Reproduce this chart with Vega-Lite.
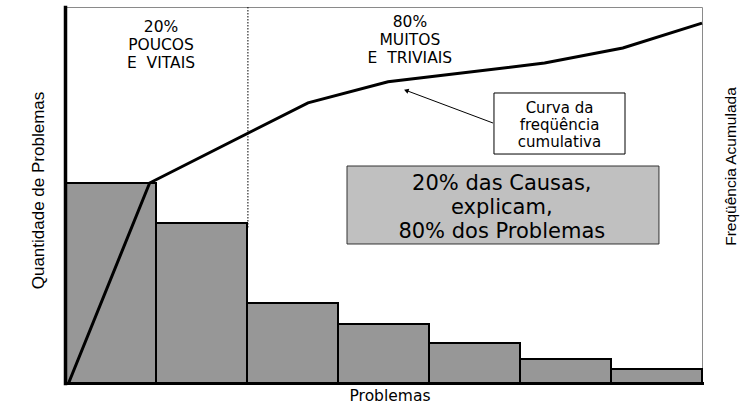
{
  "$schema": "https://vega.github.io/schema/vega-lite/v6.json",
  "width": 637,
  "height": 376,
  "autosize": {"type": "none"},
  "padding": {"left": 65, "top": 7, "right": 50, "bottom": 22},
  "background": "white",
  "config": {
    "view": {"stroke": "#8a8a8a", "strokeWidth": 1},
    "text": {"font": "DejaVu Sans", "color": "black"}
  },
  "resolve": {"axis": {"x": "independent", "y": "independent"}},
  "layer": [
    {
      "data": {"values": [
        {"problema": "1", "inicio": 0, "fim": 1, "quantidade": 53.2},
        {"problema": "2", "inicio": 1, "fim": 2, "quantidade": 42.55},
        {"problema": "3", "inicio": 2, "fim": 3, "quantidade": 21.28},
        {"problema": "4", "inicio": 3, "fim": 4, "quantidade": 15.69},
        {"problema": "5", "inicio": 4, "fim": 5, "quantidade": 10.64},
        {"problema": "6", "inicio": 5, "fim": 6, "quantidade": 6.38},
        {"problema": "7", "inicio": 6, "fim": 7, "quantidade": 3.72}
      ]},
      "mark": {"type": "rect", "fill": "#979797", "stroke": "black", "strokeWidth": 2},
      "encoding": {
        "x": {"field": "inicio", "type": "quantitative", "scale": {"domain": [0, 7], "nice": false, "zero": false},
          "axis": {"orient": "bottom", "title": "Problemas", "domain": true, "domainColor": "black", "domainWidth": 3, "domainCap": "square", "ticks": false, "labels": false, "grid": false,
            "titleFont": "DejaVu Sans", "titleFontSize": 15.5, "titleFontWeight": "normal", "titleColor": "black", "titleBaseline": "alphabetic", "titleX": 324.5, "titleY": 17.5, "zindex": 1}},
        "x2": {"field": "fim"},
        "y": {"field": "quantidade", "type": "quantitative", "scale": {"domain": [0, 100], "nice": false},
          "axis": {"orient": "left", "title": "Quantidade de Problemas", "domainColor": "black", "domainWidth": 3.5, "domainCap": "square", "ticks": false, "labels": false, "grid": false,
            "titleFont": "Liberation Sans", "titleFontSize": 17, "titleFontWeight": "normal", "titleColor": "black", "titlePadding": 18, "titleY": 183, "zindex": 1}},
        "y2": {"datum": 0}
      }
    },
    {
      "data": {"values": [
        {"posicao": 0.04, "acumulado": 0},
        {"posicao": 0.93, "acumulado": 53.2},
        {"posicao": 2.67, "acumulado": 74.5},
        {"posicao": 3.55, "acumulado": 80.1},
        {"posicao": 5.27, "acumulado": 85.1},
        {"posicao": 6.13, "acumulado": 89.1},
        {"posicao": 7.0, "acumulado": 95.7}
      ]},
      "mark": {"type": "line", "color": "black", "strokeWidth": 3},
      "encoding": {
        "x": {"field": "posicao", "type": "quantitative", "axis": null},
        "y": {"field": "acumulado", "type": "quantitative",
          "axis": {"orient": "right", "title": "Freqüência Acumulada", "domain": false, "ticks": false, "labels": false, "grid": false,
            "titleFont": "Liberation Sans", "titleFontSize": 15.5, "titleFontWeight": "normal", "titleColor": "black", "titleAngle": 270, "titleBaseline": "top", "titlePadding": 21, "titleY": 159}}
      }
    },
    {
      "data": {"values": [{"divisao": "20/80"}]},
      "mark": {"type": "rule", "color": "black", "strokeWidth": 1, "strokeDash": [1.5, 1.5]},
      "encoding": {
        "x": {"datum": 2.01, "axis": null},
        "y": {"datum": 100, "axis": null},
        "y2": {"datum": 41.2}
      }
    },
    {
      "data": {"values": [{"texto": "20%\nPOUCOS\nE\u00a0\u00a0VITAIS"}]},
      "mark": {"type": "text", "fontSize": 15.5, "lineBreak": "\n", "lineHeight": 18, "align": "center", "baseline": "alphabetic"},
      "encoding": {
        "x": {"datum": 1.055, "axis": null},
        "y": {"datum": 93.35, "axis": null},
        "text": {"field": "texto"}
      }
    },
    {
      "data": {"values": [{"texto": "80%\nMUITOS\nE\u00a0\u00a0TRIVIAIS"}]},
      "mark": {"type": "text", "fontSize": 15.5, "lineBreak": "\n", "lineHeight": 18, "align": "center", "baseline": "alphabetic"},
      "encoding": {
        "x": {"datum": 3.79, "axis": null},
        "y": {"datum": 94.68, "axis": null},
        "text": {"field": "texto"}
      }
    },
    {
      "data": {"values": [{"caixa": "curva"}]},
      "mark": {"type": "rect", "fill": "white", "stroke": "black", "strokeWidth": 1},
      "encoding": {
        "x": {"datum": 4.714, "axis": null},
        "x2": {"datum": 6.154},
        "y": {"datum": 77.13, "axis": null},
        "y2": {"datum": 60.9}
      }
    },
    {
      "data": {"values": [{"texto": "Curva da\nfreqüência\ncumulativa"}]},
      "mark": {"type": "text", "fontSize": 15, "lineBreak": "\n", "lineHeight": 17, "align": "center", "baseline": "alphabetic"},
      "encoding": {
        "x": {"datum": 5.434, "axis": null},
        "y": {"datum": 71.73, "axis": null},
        "text": {"field": "texto"}
      }
    },
    {
      "data": {"values": [{"seta": "curva"}]},
      "mark": {"type": "rule", "color": "black", "strokeWidth": 1},
      "encoding": {
        "x": {"datum": 4.703, "axis": null},
        "x2": {"datum": 3.75},
        "y": {"datum": 69.15, "axis": null},
        "y2": {"datum": 77.8}
      }
    },
    {
      "data": {"values": [{"seta": "ponta"}]},
      "mark": {"type": "point", "shape": "triangle-up", "filled": true, "color": "black", "size": 28, "angle": 290, "opacity": 1},
      "encoding": {
        "x": {"datum": 3.75, "axis": null},
        "y": {"datum": 77.8, "axis": null}
      }
    },
    {
      "data": {"values": [{"caixa": "conclusao"}]},
      "mark": {"type": "rect", "fill": "#c0c0c0", "stroke": "#333333", "strokeWidth": 1},
      "encoding": {
        "x": {"datum": 3.099, "axis": null},
        "x2": {"datum": 6.527},
        "y": {"datum": 57.71, "axis": null},
        "y2": {"datum": 36.97}
      }
    },
    {
      "data": {"values": [{"texto": "20% das Causas,\nexplicam,\n80% dos Problemas"}]},
      "mark": {"type": "text", "fontSize": 21, "lineBreak": "\n", "lineHeight": 24, "align": "center", "baseline": "alphabetic"},
      "encoding": {
        "x": {"datum": 4.80, "axis": null},
        "y": {"datum": 51.46, "axis": null},
        "text": {"field": "texto"}
      }
    }
  ]
}
